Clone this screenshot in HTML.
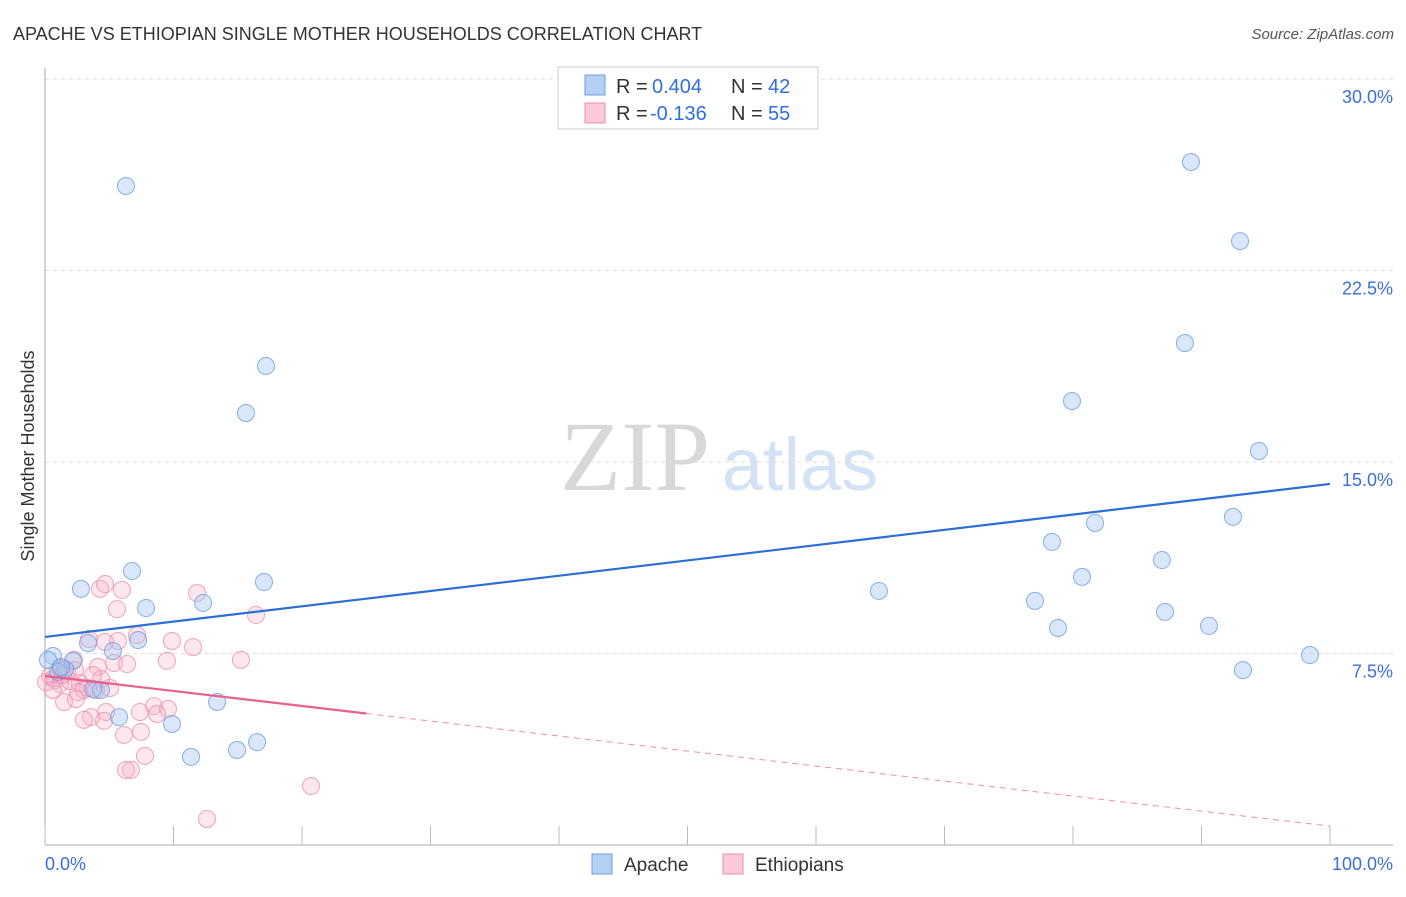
<!DOCTYPE html>
<html><head><meta charset="utf-8"><style>
body{margin:0;background:#fff;font-family:"Liberation Sans",sans-serif}
</style></head><body>
<svg id="c" width="1406" height="892" xmlns="http://www.w3.org/2000/svg" style="font-family:'Liberation Sans',sans-serif">
<text x="13" y="40" font-size="18" fill="#333">APACHE VS ETHIOPIAN SINGLE MOTHER HOUSEHOLDS CORRELATION CHART</text>
<text x="1394" y="39" font-size="15" fill="#555" font-style="italic" text-anchor="end">Source: ZipAtlas.com</text>
<text transform="translate(34,456) rotate(-90)" font-size="18" fill="#333" text-anchor="middle">Single Mother Households</text>
<g>
<text x="635" y="490" font-size="100" fill="#d8d8d8" text-anchor="middle" font-family="Liberation Serif,serif">ZIP</text>
<text x="800" y="490" font-size="74" fill="#d3e2f4" text-anchor="middle">atlas</text>
</g>
<g id="grid"></g><g id="axes"></g><g id="pts"></g><g id="lines"></g>
<g>
<rect x="558" y="67" width="260" height="62" fill="#fff" stroke="#ccc"/>
<rect x="585" y="75" width="20" height="20" fill="#b5d0f5" stroke="#6b9de0"/>
<rect x="585" y="103" width="20" height="20" fill="#fbc9d8" stroke="#f08cab"/>
<text y="93" font-size="20" fill="#333"><tspan x="616">R =</tspan><tspan x="652" fill="#2f6fdc">0.404</tspan><tspan x="731">N =</tspan><tspan x="768" fill="#2f6fdc">42</tspan></text>
<text y="120" font-size="20" fill="#333"><tspan x="616">R =</tspan><tspan x="650" fill="#2f6fdc">-0.136</tspan><tspan x="731">N =</tspan><tspan x="768" fill="#2f6fdc">55</tspan></text>
</g>
<g>
<rect x="592" y="854" width="20" height="20" fill="#b5d0f5" stroke="#6b9de0"/>
<text x="624" y="871" font-size="19" fill="#333">Apache</text>
<rect x="723" y="854" width="20" height="20" fill="#fbc9d8" stroke="#f08cab"/>
<text x="755" y="871" font-size="19" fill="#333">Ethiopians</text>
</g>
<text x="45" y="870" font-size="18" fill="#3a6fd8">0.0%</text>
<text x="1393" y="870" font-size="18" fill="#3a6fd8" text-anchor="end">100.0%</text>
</svg>
<script>
const yTicks=[7.5,15,22.5,30];
const yTickLabels=["7.5%","15.0%","22.5%","30.0%"];
const apacheX=[6.30,17.20,15.64,6.77,2.80,17.04,7.86,12.30,3.35,7.24,5.29,0.62,0.23,2.18,1.56,1.01,4.36,3.74,5.76,9.88,13.39,11.36,14.94,16.50,89.18,93.00,88.71,79.92,94.47,81.71,78.36,92.45,86.92,80.70,64.90,77.04,87.16,78.83,90.58,98.44,93.23,1.25];
const apacheY=[25.81,18.76,16.92,10.73,10.03,10.30,9.28,9.48,7.91,8.03,7.60,7.40,7.25,7.21,6.89,6.78,6.07,6.11,5.01,4.74,5.60,3.45,3.72,4.03,26.75,23.65,19.66,17.39,15.43,12.61,11.87,12.85,11.16,10.50,9.95,9.56,9.13,8.50,8.58,7.44,6.85,6.97];
const ethX=[4.28,5.99,4.67,5.60,11.83,16.42,3.42,5.68,7.16,9.88,11.52,4.67,5.37,9.49,15.25,6.38,2.26,4.12,1.25,1.71,0.39,0.78,1.17,1.95,2.72,3.35,4.36,3.03,3.97,5.06,0.70,1.40,2.57,1.48,2.41,4.75,3.58,4.59,3.03,7.39,8.48,9.57,8.72,6.15,7.47,7.78,6.69,6.30,12.61,20.70,1.17,2.33,0.08,3.74,0.62];
const ethY=[10.03,9.99,10.22,9.24,9.87,9.01,8.07,7.99,8.22,7.99,7.75,7.95,7.13,7.21,7.25,7.09,7.25,6.97,6.85,6.78,6.62,6.46,6.31,6.42,6.34,6.15,6.50,6.07,6.07,6.15,6.54,6.66,5.99,5.60,5.72,5.21,5.01,4.86,4.90,5.21,5.44,5.33,5.13,4.31,4.43,3.49,2.94,2.94,1.02,2.31,6.93,6.85,6.38,6.66,6.07];
const apacheTrend=[8.15,14.14];
const ethTrend=[6.62,0.74];
const ethSolidEnd=25;
const NS="http://www.w3.org/2000/svg";
const X=v=>45+v*12.85, Y=v=>845-v*25.533;
function mk(t,a,p){const e=document.createElementNS(NS,t);for(const k in a)e.setAttribute(k,a[k]);p.appendChild(e);return e;}
const grid=document.getElementById('grid'),axes=document.getElementById('axes'),pts=document.getElementById('pts'),lines=document.getElementById('lines');
yTicks.forEach((t,i)=>{
 const l=mk('line',{x1:45,x2:1393,y1:Y(t),y2:Y(t),stroke:'#ddd','stroke-dasharray':'4,4'},grid);
 
 
 const tx=mk('text',{x:1393,y:Y(t)+24,'font-size':18,fill:'#3a6fd8','text-anchor':'end'},grid);
 tx.textContent=yTickLabels[i];
 
 
});
const ya=mk('line',{x1:45,x2:45,y1:68,y2:845,stroke:'#aaa'},axes);


const xa=mk('line',{x1:45,x2:1393,y1:845,y2:845,stroke:'#aaa'},axes);


for(let i=0;i<=10;i++){const tk=mk('line',{x1:X(i*10),x2:X(i*10),y1:826,y2:845,stroke:'#bbb'},axes);
 
 }
function dots(xs,ys,fill,stroke,name){xs.forEach((x,i)=>{const c=mk('circle',{cx:X(x),cy:Y(ys[i]),r:8.5,fill:fill,stroke:stroke,'stroke-width':1,'stroke-opacity':0.8},pts);
 
 });}
dots(ethX,ethY,'rgba(248,175,198,0.3)','#f08cab','ethiopians-point');
dots(apacheX,apacheY,'rgba(160,196,240,0.4)','#6b9de0','apache-point');
const bl=mk('line',{x1:X(0),y1:Y(apacheTrend[0]),x2:X(100),y2:Y(apacheTrend[1]),stroke:'#2a6fd6','stroke-width':2.2},lines);


const ey=x=>ethTrend[0]+(ethTrend[1]-ethTrend[0])*x/100;
const pl=mk('line',{x1:X(0),y1:Y(ey(0)),x2:X(ethSolidEnd),y2:Y(ey(ethSolidEnd)),stroke:'#e8608c','stroke-width':2.2},lines);


const pd=mk('line',{x1:X(ethSolidEnd),y1:Y(ey(ethSolidEnd)),x2:X(100),y2:Y(ey(100)),stroke:'#f08cab','stroke-width':1,'stroke-dasharray':'6,5'},lines);


</script>
</body></html>
